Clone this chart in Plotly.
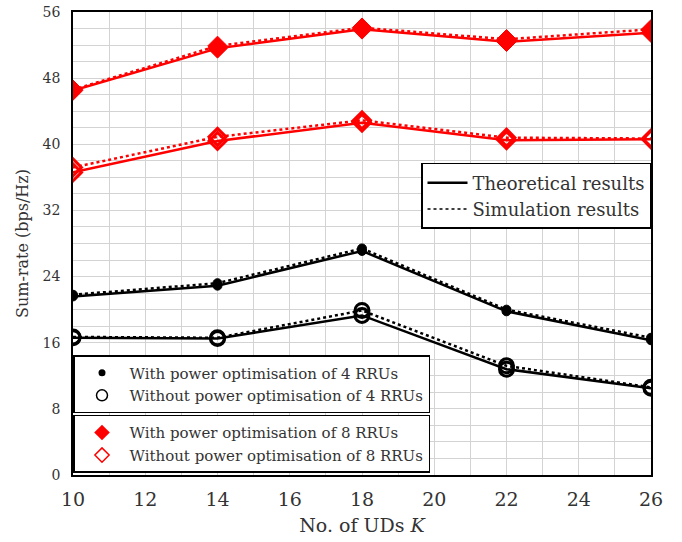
import plotly.graph_objects as go

K = [10, 14, 18, 22, 26]

# 8 RRUs, with power optimisation
red_with_theo = [46.5, 51.6, 53.9, 52.4, 53.5]
red_with_sim = [46.6, 51.9, 54.1, 52.7, 53.9]
# 8 RRUs, without power optimisation
red_wo_theo = [36.6, 40.4, 42.6, 40.5, 40.6]
red_wo_sim = [37.2, 40.9, 42.9, 40.8, 40.7]
# 4 RRUs, with power optimisation
blk_with_theo = [21.6, 22.9, 27.1, 19.8, 16.3]
blk_with_sim = [21.8, 23.2, 27.4, 20.0, 16.6]
# 4 RRUs, without power optimisation
blk_wo_theo = [16.6, 16.5, 19.3, 12.8, 10.5]
blk_wo_sim = [16.7, 16.6, 19.9, 13.2, 10.6]

x_ticks = [10, 12, 14, 16, 18, 20, 22, 24, 26]
y_ticks = [0, 8, 16, 24, 32, 40, 48, 56]

FONT = "DejaVu Serif"
TXT = "#333333"

fig = go.Figure()

def add_pair(theo, sim, color, symbol, size, mlw):
    fig.add_trace(go.Scatter(
        x=K, y=sim, mode="lines+markers", showlegend=False,
        line=dict(color=color, width=2.5, dash="dot"),
        marker=dict(symbol=symbol, size=size, color=color, line=dict(color=color, width=mlw))))
    fig.add_trace(go.Scatter(
        x=K, y=theo, mode="lines+markers", showlegend=False,
        line=dict(color=color, width=2.5),
        marker=dict(symbol=symbol, size=size, color=color, line=dict(color=color, width=mlw))))

add_pair(red_with_theo, red_with_sim, "red", "diamond", 15, 1)
add_pair(red_wo_theo, red_wo_sim, "red", "diamond-open", 13, 3)
add_pair(blk_with_theo, blk_with_sim, "black", "circle", 9, 1)
add_pair(blk_wo_theo, blk_wo_sim, "black", "circle-open", 14, 3)

# legend 1: line styles
fig.add_trace(go.Scatter(x=[None], y=[None], mode="lines", name="Theoretical results",
                         line=dict(color="black", width=2.5), legend="legend"))
fig.add_trace(go.Scatter(x=[None], y=[None], mode="lines", name="Simulation results",
                         line=dict(color="black", width=1.5, dash="dot"), legend="legend"))
# legend 2: 4 RRUs
fig.add_trace(go.Scatter(x=[None], y=[None], mode="markers", name="With power optimisation of 4 RRUs",
                         marker=dict(symbol="circle", size=7, color="black"), legend="legend2"))
fig.add_trace(go.Scatter(x=[None], y=[None], mode="markers", name="Without power optimisation of 4 RRUs",
                         marker=dict(symbol="circle-open", size=11, color="black", line=dict(width=1.5)), legend="legend2"))
# legend 3: 8 RRUs
fig.add_trace(go.Scatter(x=[None], y=[None], mode="markers", name="With power optimisation of 8 RRUs",
                         marker=dict(symbol="diamond", size=12, color="red"), legend="legend3"))
fig.add_trace(go.Scatter(x=[None], y=[None], mode="markers", name="Without power optimisation of 8 RRUs",
                         marker=dict(symbol="diamond-open", size=11, color="red", line=dict(width=1.5)), legend="legend3"))

grid = "#d3d3d3"
fig.update_layout(
    width=682, height=542,
    margin=dict(l=73, r=31, t=12, b=67, autoexpand=False),
    plot_bgcolor="white", paper_bgcolor="white",
    font=dict(family=FONT, color=TXT, size=16),
    xaxis=dict(range=[10, 26], tickvals=x_ticks, ticktext=[str(v) for v in x_ticks],
               automargin=False, ticklabelstandoff=6,
               showgrid=True, gridcolor=grid, gridwidth=1,
               minor=dict(dtick=1, showgrid=True, gridcolor=grid, gridwidth=1),
               showline=True, linecolor="black", linewidth=1.5, mirror=True,
               zeroline=False, tickfont=dict(size=19, color=TXT, family=FONT),
               title=dict(text="No. of UDs <i>K</i>", font=dict(size=19, color=TXT, family=FONT), standoff=10)),
    yaxis=dict(range=[0, 56], tickvals=y_ticks, ticktext=[str(v) for v in y_ticks],
               automargin=False, ticklabelstandoff=8,
               showgrid=True, gridcolor=grid, gridwidth=1,
               minor=dict(dtick=2, showgrid=True, gridcolor=grid, gridwidth=1),
               showline=True, linecolor="black", linewidth=1.5, mirror=True,
               zeroline=False, tickfont=dict(size=14, color=TXT, family=FONT),
               title=dict(text="Sum-rate (bps/Hz)", font=dict(size=16, color=TXT, family=FONT), standoff=10)),
    legend=dict(x=1, xanchor="right", y=0.674, yanchor="top",
                bgcolor="white", bordercolor="black", borderwidth=1.5,
                font=dict(size=18, color=TXT, family=FONT), tracegroupgap=0, itemwidth=40),
    legend2=dict(x=0, xanchor="left", y=0.259, yanchor="top",
                 bgcolor="white", bordercolor="black", borderwidth=1.5,
                 font=dict(size=15, color=TXT, family=FONT), tracegroupgap=0, itemwidth=45),
    legend3=dict(x=0, xanchor="left", y=0.13, yanchor="top",
                 bgcolor="white", bordercolor="black", borderwidth=1.5,
                 font=dict(size=15, color=TXT, family=FONT), tracegroupgap=0, itemwidth=45),
)

fig.write_html("out.html")
